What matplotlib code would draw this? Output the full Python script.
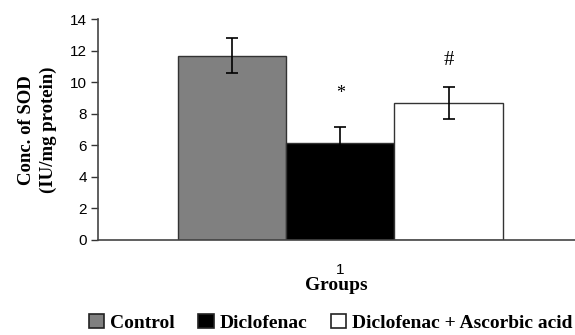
import numpy as np
import matplotlib.pyplot as plt
from matplotlib.patches import Patch

# SOD concentration by group
groups = ['Control', 'Diclofenac', 'Diclofenac + Ascorbic acid']
sod = [11.7, 6.15, 8.7]
sod_err = [1.1, 1.0, 1.0]
colors = ['#808080', '#000000', '#ffffff']
marks = ['', '*', '#']
mark_y = [None, 9.3, 11.4]
mark_size = [0, 13, 15]
positions = [0, 1, 2]

fig = plt.figure(figsize=(5.75, 3.35), dpi=100)
ax = fig.add_axes([0.170, 0.284, 0.830, 0.658])

serif = 'Liberation Serif'
sans = 'Liberation Sans'

for i in range(len(groups)):
    ax.bar(positions[i], sod[i], width=1.0, color=colors[i],
           edgecolor='#333333', linewidth=1.0, zorder=2)
    ax.errorbar(positions[i], sod[i], yerr=sod_err[i], fmt='none',
                ecolor='#000000', elinewidth=1.2, capsize=4, capthick=1.2,
                zorder=3)
    if marks[i]:
        ax.text(positions[i], mark_y[i], marks[i], ha='center', va='center',
                fontsize=mark_size[i], fontfamily=serif)

ax.set_xlim(-1.245, 3.17)
ax.set_ylim(0, 14)
ax.set_yticks(np.arange(0, 15, 2))
ax.set_xticks([1])
ax.set_xticklabels(['1'])
for lab in ax.get_xticklabels() + ax.get_yticklabels():
    lab.set_fontfamily(sans)
    lab.set_fontsize(11)
ax.tick_params(axis='y', length=5, width=1, color='#333333', pad=3)
ax.tick_params(axis='x', length=0, pad=17)

for s in ['top', 'right']:
    ax.spines[s].set_visible(False)
for s in ['left', 'bottom']:
    ax.spines[s].set_color('#444444')
    ax.spines[s].set_linewidth(1.2)

ax.set_ylabel('Conc. of SOD\n(IU/mg protein)', fontfamily=serif,
              fontweight='bold', fontsize=13.5, labelpad=9, linespacing=1.4)
ax.set_xlabel('Groups', fontfamily=serif, fontweight='bold', fontsize=14,
              labelpad=0)

handles = [Patch(facecolor=c, edgecolor='#222222', linewidth=1.2) for c in colors]
fig.legend(handles, groups, loc='center', bbox_to_anchor=(0.575, 0.037),
           ncol=3, frameon=False, handlelength=0.8, handleheight=0.8,
           handletextpad=0.3, columnspacing=1.2,
           prop={'family': serif, 'weight': 'bold', 'size': 14})

fig.savefig('out.png', dpi=100)
